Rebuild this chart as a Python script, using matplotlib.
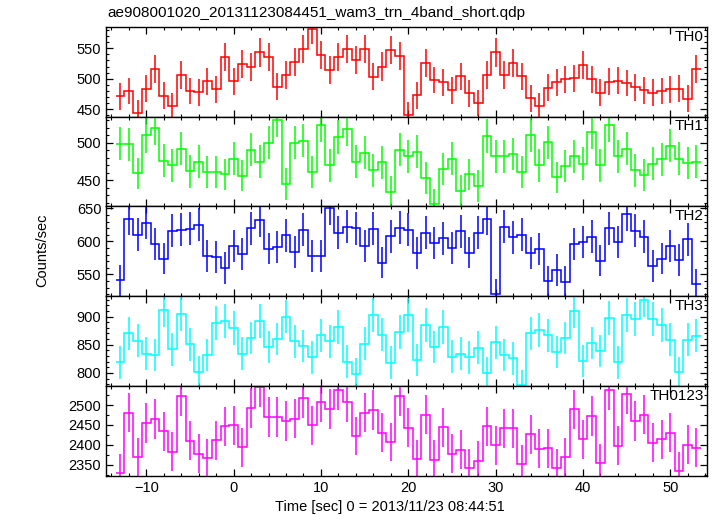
import numpy as np
import matplotlib.pyplot as plt
from matplotlib.ticker import MultipleLocator

plt.rcParams['font.family'] = ['Liberation Sans', 'DejaVu Sans']
plt.rcParams['font.size'] = 10

title = "ae908001020_20131123084451_wam3_trn_4band_short.qdp"
xlabel = "Time [sec] 0 = 2013/11/23 08:44:51"
ylabel = "Counts/sec"

# 1 s bins, centres from -13 to 53
t_first, t_last = -13, 53
bin_width = 1.0

names = ["TH0", "TH1", "TH2", "TH3", "TH0123"]
colors = ["#ff0000", "#00ff00", "#0000ff", "#00ffff", "#ff00ff"]

th0 = [471, 480, 444, 484, 516, 472, 455, 506, 480, 478, 496, 483, 536, 496, 524, 519, 543,
       535, 487, 506, 528, 548, 581, 539, 515, 535, 548, 531, 548, 503, 520, 547, 537, 441,
       473, 526, 498, 494, 481, 504, 476, 460, 506, 543, 506, 526, 504, 468, 455, 485, 494,
       499, 501, 523, 499, 477, 495, 497, 493, 486, 481, 477, 480, 483, 484, 467, 516]
th0_err = [22, 22, 21, 22, 23, 22, 21, 23, 22, 22, 22, 22, 23, 22, 23, 23, 23,
           23, 22, 23, 23, 23, 24, 23, 23, 23, 23, 23, 23, 22, 23, 23, 23, 21,
           22, 23, 22, 22, 22, 22, 22, 21, 23, 23, 23, 23, 22, 22, 21, 22, 22,
           22, 22, 23, 22, 22, 22, 22, 22, 22, 22, 22, 22, 22, 22, 22, 23]

th1 = [499, 498, 459, 510, 520, 476, 470, 492, 462, 475, 461, 461, 458, 479, 456, 491, 475,
       500, 531, 445, 500, 503, 461, 524, 470, 508, 519, 475, 487, 463, 474, 434, 491, 482,
       488, 453, 418, 465, 479, 436, 458, 442, 509, 482, 482, 485, 461, 511, 470, 501, 454,
       469, 482, 472, 515, 470, 524, 482, 492, 463, 457, 472, 478, 496, 479, 473, 475]
th1_err = [22, 22, 21, 23, 23, 22, 22, 22, 22, 22, 21, 21, 21, 22, 21, 22, 22,
           22, 23, 21, 22, 22, 21, 23, 22, 23, 23, 22, 22, 22, 22, 21, 22, 22,
           22, 21, 20, 22, 22, 21, 21, 21, 23, 22, 22, 22, 21, 23, 22, 22, 21,
           22, 22, 22, 23, 22, 23, 22, 22, 22, 21, 22, 22, 22, 22, 22, 22]

th2 = [541, 634, 610, 628, 596, 574, 616, 618, 619, 625, 578, 576, 560, 593, 581, 620, 632,
       589, 592, 609, 584, 618, 578, 578, 650, 613, 622, 620, 593, 619, 568, 608, 621, 618,
       582, 613, 598, 605, 590, 615, 583, 613, 634, 520, 622, 606, 610, 582, 588, 540, 557,
       539, 596, 599, 607, 571, 620, 599, 641, 616, 607, 563, 574, 593, 572, 603, 535]
th2_err = [23, 25, 25, 25, 24, 24, 25, 25, 25, 25, 24, 24, 24, 24, 24, 25, 25,
           24, 24, 25, 24, 25, 24, 24, 25, 25, 25, 25, 24, 25, 24, 25, 25, 25,
           24, 25, 24, 25, 24, 25, 24, 25, 25, 23, 25, 25, 25, 24, 24, 23, 24,
           23, 24, 24, 25, 24, 25, 24, 25, 25, 25, 24, 24, 24, 24, 25, 23]

th3 = [819, 870, 857, 834, 832, 912, 842, 905, 851, 802, 832, 889, 892, 879, 834, 862, 892,
       846, 860, 900, 856, 848, 828, 867, 856, 882, 820, 799, 852, 903, 868, 818, 873, 903,
       823, 885, 846, 882, 829, 834, 828, 845, 800, 854, 832, 826, 778, 870, 876, 867, 837,
       862, 910, 821, 853, 839, 898, 819, 902, 895, 930, 895, 885, 859, 801, 859, 866]
th3_err = [29, 29, 29, 29, 29, 30, 29, 30, 29, 28, 29, 30, 30, 30, 29, 29, 30,
           29, 29, 30, 29, 29, 29, 29, 29, 30, 29, 28, 29, 30, 29, 29, 30, 30,
           29, 30, 29, 30, 29, 29, 29, 29, 28, 29, 29, 29, 28, 29, 30, 29, 29,
           29, 30, 29, 29, 29, 30, 29, 30, 30, 30, 30, 30, 29, 28, 29, 29]

th0123 = [2328, 2481, 2368, 2454, 2464, 2434, 2382, 2523, 2410, 2377, 2366, 2411, 2447, 2449,
          2394, 2492, 2546, 2470, 2470, 2460, 2466, 2517, 2449, 2508, 2490, 2537, 2508, 2422,
          2481, 2488, 2430, 2407, 2523, 2443, 2363, 2476, 2362, 2444, 2378, 2388, 2341, 2360,
          2447, 2399, 2442, 2442, 2351, 2427, 2390, 2391, 2341, 2368, 2489, 2414, 2473, 2354,
          2537, 2397, 2528, 2460, 2476, 2405, 2414, 2430, 2334, 2400, 2392]
th0123_err = [48, 50, 49, 50, 50, 49, 49, 50, 49, 49, 49, 49, 49, 49,
              49, 50, 50, 50, 50, 50, 50, 50, 49, 50, 50, 50, 50, 49,
              50, 50, 49, 49, 50, 49, 49, 50, 49, 49, 49, 49, 48, 49,
              49, 49, 49, 49, 48, 49, 49, 49, 48, 49, 50, 49, 50, 49,
              50, 49, 50, 50, 50, 49, 49, 49, 48, 49, 49]

rates = [th0, th1, th2, th3, th0123]
errors = [th0_err, th1_err, th2_err, th3_err, th0123_err]
ylims = [(438, 585), (415, 535), (517, 653), (777, 936), (2322, 2548)]
minor_steps = [10, 10, 10, 10, 25]

times = np.arange(t_first, t_last + 1)
edges = np.append(times - bin_width / 2, times[-1] + bin_width / 2)

fig, axes = plt.subplots(5, 1, figsize=(7.17, 5.16), dpi=100, sharex=True)
fig.subplots_adjust(left=0.148, right=0.986, top=0.948, bottom=0.078, hspace=0)

for ax, rate, err, name, color, ylim, mstep in zip(axes, rates, errors, names, colors,
                                                   ylims, minor_steps):
    rate = np.array(rate, dtype=float)
    err = np.array(err, dtype=float)
    ax.stairs(rate, edges, baseline=None, color=color, lw=1.1)
    ax.vlines(times, rate - err, rate + err, color=color, lw=1.1)
    ax.set_xlim(-14.6, 54.2)
    ax.set_ylim(ylim)
    ax.yaxis.set_major_locator(MultipleLocator(50))
    ax.yaxis.set_minor_locator(MultipleLocator(mstep))
    ax.xaxis.set_major_locator(MultipleLocator(10))
    ax.xaxis.set_minor_locator(MultipleLocator(2))
    ax.tick_params(which='both', direction='in', top=True, right=True, labelsize=10.5)
    ax.tick_params(which='major', length=5, width=0.9)
    ax.tick_params(which='minor', length=2.5, width=0.8)
    for sp in ax.spines.values():
        sp.set_linewidth(1.0)
    ax.text(0.995, 0.97, name, transform=ax.transAxes, ha='right', va='top', fontsize=11)

fig.text(107 / 717, 1 - 13 / 516, title, ha='left', va='center', fontsize=11)
fig.text(42 / 717, 1 - 250 / 516, ylabel, rotation=90, ha='center', va='center', fontsize=10.5)
fig.text(390 / 717, 1 - 507 / 516, xlabel, ha='center', va='center', fontsize=10.5)

plt.savefig("out.png", dpi=100)
